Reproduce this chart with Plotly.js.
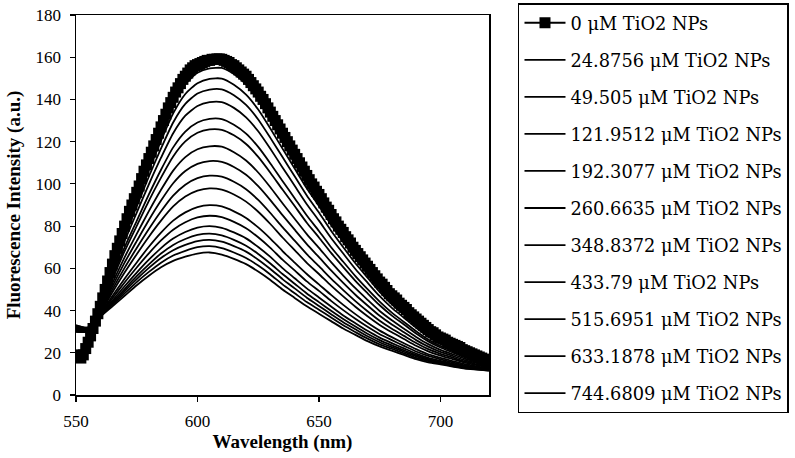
<!DOCTYPE html>
<html>
<head>
<meta charset="utf-8">
<script src="https://cdn.plot.ly/plotly-3.0.1.min.js"></script>
<style>html,body{margin:0;padding:0;background:#fff;}#chart{width:795px;height:458px;}</style>
</head>
<body>
<div id="chart"></div>
<script>
// Wavelength grids (nm)
const wavelengthFine = [550,551,552,553,554,555,556,557,558,559,560,561,562,563,564,565,566,567,568,569,570,571,572,573,574,575,576,577,578,579,580,581,582,583,584,585,586,587,588,589,590,591,592,593,594,595,596,597,598,599,600,601,602,603,604,605,606,607,608,609,610,611,612,613,614,615,616,617,618,619,620,621,622,623,624,625,626,627,628,629,630,631,632,633,634,635,636,637,638,639,640,641,642,643,644,645,646,647,648,649,650,651,652,653,654,655,656,657,658,659,660,661,662,663,664,665,666,667,668,669,670,671,672,673,674,675,676,677,678,679,680,681,682,683,684,685,686,687,688,689,690,691,692,693,694,695,696,697,698,699,700,701,702,703,704,705,706,707,708,709,710,711,712,713,714,715,716,717,718,719,720];
const wavelength = [550,555,560,565,570,575,580,585,590,595,600,605,610,615,620,625,630,635,640,645,650,655,660,665,670,675,680,685,690,695,700,705,710,715,720];

// 0 uM TiO2 NPs (square markers)
const conc0 = [19,18,17.5,19,22,25,28,31.5,35,38.5,42,46,50,54,58,62,66,69.5,73,76.5,80,83.5,87,90,93,96,99,102.5,106,109,112,115,118,121,124,127,130,133,136,138.5,141,143.5,145.5,147.5,149.5,151,152.5,154,155,156,156.5,157,157.5,158,158.5,158.5,159,159,159.2,159.2,159,158.5,158,157.5,156.5,156,155,154,153,152,151,149.5,148,146.5,145,143.5,141.5,140,138,136,134,132,130,128,126,124,122,120,118,116,114,112,110,108,106,104,102,100,98.5,96.5,95,93,91,89,87.5,85.5,83.5,82,80,78.5,77,75,73.5,72,70,68.5,67,65.5,64,62.5,61,59.5,58,56.5,55,53.5,52.5,51,49.5,48,47,46,45,43.5,42.5,41.5,40.5,39,38,37,36,35,34,33,32,31,30,29.5,28.5,27.5,27,26.5,26,25,24.5,24,23.5,23,22.5,21.5,21,20.5,20,19.5,19,18.5,18,17.5,17,16.5,16];

// Quenched spectra (thin lines), highest to lowest
const s1 = [33,32,41.8,61.1,78.5,94.1,109.6,124.1,137.6,147.2,152.6,154.7,154.9,152.0,147.1,139.8,130.5,120.7,111.0,101.3,92.5,83.3,75.0,66.7,59.4,52.2,45.9,40.5,35.2,30.3,26.5,23.5,20.6,18.2,15.8];
const s2 = [33,32,41.5,60.0,76.8,91.7,106.6,120.5,133.4,142.6,147.7,149.8,149.9,147.0,142.3,135.2,126.2,116.7,107.3,97.9,89.5,80.6,72.5,64.6,57.5,50.5,44.5,39.3,34.1,29.5,25.8,23.0,20.2,17.9,15.6];
const s3 = [32.5,31.5,41.2,58.9,75.0,89.3,103.5,116.8,129.1,137.9,142.8,144.7,144.8,142.0,137.4,130.5,121.8,112.7,103.6,94.5,86.4,77.8,70.0,62.4,55.6,48.8,43.0,38.1,33.1,28.6,25.1,22.4,19.7,17.5,15.3];
const s4 = [32.5,31.5,40.9,57.6,72.8,86.4,99.8,112.4,124.0,132.3,136.9,138.7,138.7,136.0,131.5,124.9,116.6,107.8,99.1,90.4,82.6,74.4,67.0,59.7,53.2,46.8,41.3,36.6,31.8,27.6,24.3,21.7,19.1,17.1,15.0];
const s5 = [32,31.5,40.5,55.9,69.9,82.5,95.0,106.7,117.3,124.8,129.1,130.8,130.7,128.0,123.8,117.5,109.7,101.4,93.2,85.0,77.7,70.0,63.1,56.3,50.1,44.2,39.0,34.6,30.2,26.3,23.2,20.8,18.4,16.5,14.6];
const s6 = [32,31,40.2,54.8,68.1,80.1,92.0,103.0,113.0,120.1,124.2,125.8,125.6,123.0,118.9,112.8,105.3,97.3,89.5,81.6,74.6,67.3,60.6,54.1,48.2,42.5,37.6,33.4,29.1,25.4,22.5,20.2,17.9,16.2,14.4];
const s7 = [31.5,31,39.8,53.0,65.2,76.3,87.1,97.2,106.3,112.7,116.4,117.8,117.6,115.0,111.1,105.4,98.4,90.8,83.5,76.2,69.7,62.9,56.6,50.6,45.1,39.8,35.4,31.4,27.5,24.1,21.4,19.3,17.2,15.6,14.0];
const s8 = [31.5,31,39.4,51.5,62.7,72.9,82.9,92.1,100.3,106.1,109.5,110.8,110.4,108.0,104.3,98.9,92.3,85.2,78.3,71.5,65.3,59.0,53.1,47.5,42.4,37.5,33.4,29.7,26.0,22.9,20.4,18.5,16.5,15.1,13.6];
const s9 = [31,30.5,39.0,50.0,60.2,69.6,78.6,87.0,94.4,99.6,102.7,103.9,103.4,101.0,97.5,92.4,86.2,79.5,73.1,66.7,61.0,55.1,49.7,44.5,39.7,35.2,31.4,28.0,24.6,21.7,19.5,17.7,15.9,14.6,13.3];
const s10 = [31,30.5,38.7,48.7,58.0,66.7,75.0,82.6,89.3,94.0,96.8,97.9,97.3,95.0,91.6,86.8,81.0,74.6,68.6,62.6,57.3,51.8,46.7,41.8,37.3,33.2,29.7,26.5,23.3,20.7,18.7,17.0,15.3,14.2,13.0];
const s11 = [31,30.5,38.2,46.9,55.1,62.8,70.2,76.9,82.6,86.5,89.0,89.9,89.3,87.0,83.9,79.4,74.1,68.2,62.7,57.3,52.4,47.4,42.7,38.3,34.2,30.5,27.4,24.5,21.7,19.3,17.6,16.1,14.6,13.6,12.6];
const s12 = [30.5,30.5,38.0,45.8,53.3,60.4,67.1,73.2,78.3,81.8,84.1,84.9,84.2,82.0,79.0,74.7,69.7,64.1,59.0,53.8,49.3,44.6,40.2,36.1,32.3,28.8,26.0,23.3,20.6,18.5,16.9,15.5,14.1,13.2,12.4];
const s13 = [30.5,30,37.7,44.7,51.5,58.0,64.1,69.6,74.1,77.2,79.3,80.0,79.2,77.0,74.2,70.1,65.4,60.1,55.3,50.5,46.2,41.9,37.7,34.0,30.4,27.2,24.6,22.1,19.6,17.6,16.2,14.9,13.7,12.9,12.1];
const s14 = [30.5,30,37.5,44.0,50.2,56.3,61.9,67.0,71.1,73.9,75.8,76.4,75.6,73.5,70.7,66.8,62.3,57.3,52.7,48.1,44.0,39.9,36.0,32.4,29.0,26.0,23.5,21.2,18.9,17.0,15.7,14.5,13.3,12.6,11.9];
const s15 = [30,30,37.3,43.3,49.2,54.9,60.2,64.9,68.6,71.1,72.9,73.5,72.6,70.5,67.9,64.1,59.7,54.9,50.5,46.1,42.2,38.3,34.5,31.1,27.8,25.0,22.7,20.5,18.3,16.5,15.3,14.2,13.1,12.4,11.8];
const s16 = [30,30,37.2,42.7,48.1,53.5,58.3,62.7,66.1,68.3,70.0,70.5,69.6,67.5,64.9,61.3,57.1,52.4,48.2,44.0,40.4,36.7,33.0,29.8,26.7,24.0,21.9,19.7,17.6,16.0,14.9,13.8,12.8,12.2,11.6];
const s17 = [30,30,37,42,47,52,56.5,60.5,63.5,65.5,67,67.5,66.5,64.5,62,58.5,54.5,50,46,42,38.5,35,31.5,28.5,25.5,23,21,19,17,15.5,14.5,13.5,12.5,12,11.5];

const conc0Name = '0 μM TiO2 NPs';
const legendNames = ['24.8756 μM TiO2 NPs','49.505 μM TiO2 NPs','121.9512 μM TiO2 NPs','192.3077 μM TiO2 NPs','260.6635 μM TiO2 NPs','348.8372 μM TiO2 NPs','433.79 μM TiO2 NPs','515.6951 μM TiO2 NPs','633.1878 μM TiO2 NPs','744.6809 μM TiO2 NPs'];
const thinSeries = [s1,s2,s3,s4,s5,s6,s7,s8,s9,s10,s11,s12,s13,s14,s15,s16,s17];

const traces = [];
traces.push({
  x: wavelengthFine, y: conc0, name: conc0Name, type: 'scatter', mode: 'lines+markers',
  line: {color: '#000', width: 2},
  marker: {symbol: 'square', size: 11, color: '#000'},
  legendgroup: 'g0'
});
thinSeries.forEach((s, i) => {
  const inLegend = i < legendNames.length;
  traces.push({
    x: wavelength, y: s, name: inLegend ? legendNames[i] : ('series ' + (i + 2)),
    type: 'scatter', mode: 'lines',
    line: {color: '#000', width: 1.8, shape: 'spline', smoothing: 0.6},
    showlegend: inLegend, legendgroup: 'g' + (i + 1)
  });
});

const layout = {
  width: 795, height: 458,
  margin: {l: 76, r: 306, t: 15, b: 63, autoexpand: false},
  paper_bgcolor: '#fff', plot_bgcolor: '#fff',
  font: {family: '"Liberation Serif", "Times New Roman", serif', color: '#000', size: 17},
  xaxis: {
    range: [550, 720], tickvals: [550, 600, 650, 700], ticks: 'outside', ticklen: 5, tickwidth: 1.2,
    tickcolor: '#000', showline: true, linecolor: '#000', linewidth: 1.5, mirror: true,
    showgrid: false, zeroline: false, ticklabelstandoff: 5,
    tickfont: {family: '"Liberation Serif", serif', size: 17, color: '#000'},
    title: {text: 'Wavelength (nm)', font: {family: '"Liberation Serif", serif', size: 19, color: '#000', weight: 'bold'}, standoff: 0}
  },
  yaxis: {
    range: [0, 180], dtick: 20, ticks: 'outside', ticklen: 5, tickwidth: 1.2,
    tickcolor: '#000', showline: true, linecolor: '#000', linewidth: 1.5, mirror: true,
    showgrid: false, zeroline: false, ticklabelstandoff: 5,
    tickfont: {family: '"Liberation Serif", serif', size: 17, color: '#000'},
    title: {text: 'Fluorescence Intensity (a.u.)', font: {family: '"Liberation Serif", serif', size: 19, color: '#000', weight: 'bold'}, standoff: 10}
  },
  showlegend: true,
  legend: {
    x: 1.0702, xanchor: 'left', y: 1.031, yanchor: 'top', maxheight: 458,
    bordercolor: '#000', borderwidth: 1.5, bgcolor: '#fff', itemwidth: 41,
    font: {family: '"DejaVu Serif", serif', size: 17.8, color: '#000'},
    tracegroupgap: 10.9, traceorder: 'grouped', itemclick: false, itemdoubleclick: false
  }
};

Plotly.newPlot('chart', traces, layout, {staticPlot: true, displayModeBar: false});
</script>
</body>
</html>
